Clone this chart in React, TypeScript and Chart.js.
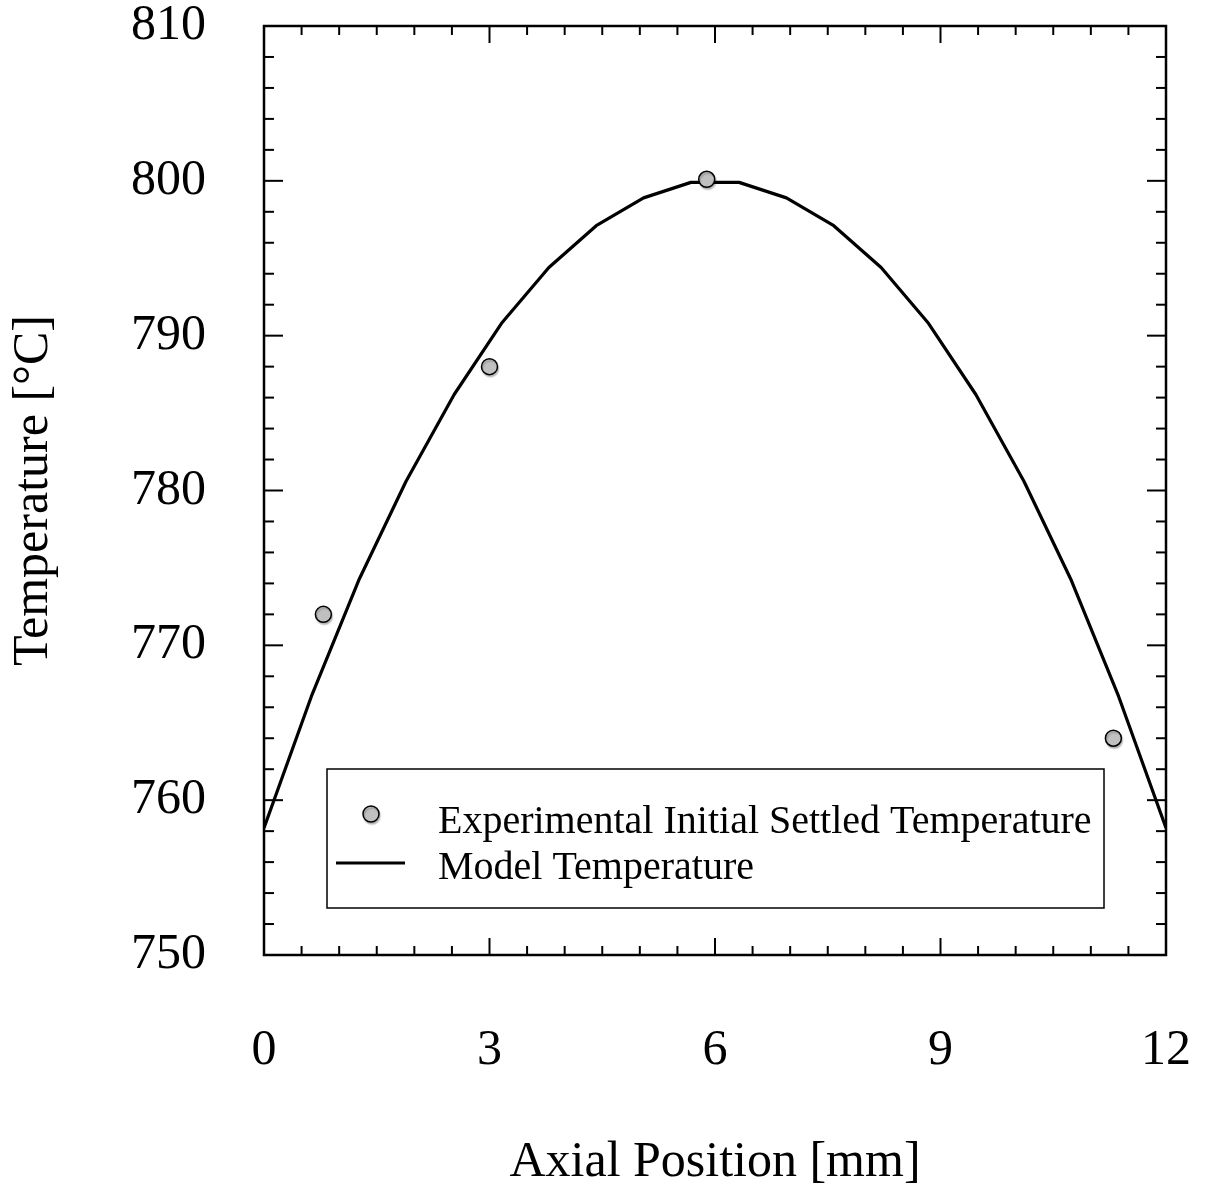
import React, { useEffect, useRef } from "react";
import { Chart, registerables } from "chart.js";

Chart.register(...registerables);

// ---- data ----
const modelX = [0, 0.63, 1.26, 1.89, 2.53, 3.16, 3.79, 4.42, 5.05, 5.68, 6.32, 6.95, 7.58, 8.21, 8.84, 9.47, 10.11, 10.74, 11.37, 12];
const modelT = [758.2, 766.7, 774.2, 780.6, 786.2, 790.8, 794.4, 797.1, 798.9, 799.9, 799.9, 798.9, 797.1, 794.4, 790.8, 786.2, 780.6, 774.2, 766.7, 758.2];
const expX = [0.79, 3.0, 5.89, 11.3];
const expT = [772, 788, 800.1, 764];
const seriesLabels = ["Experimental Initial Settled Temperature", "Model Temperature"];
const xTitle = "Axial Position [mm]";
const yTitle = "Temperature [°C]";
const xRange = [0, 12];
const yRange = [750, 810];
const xSteps = [3, 0.5]; // major, minor
const ySteps = [10, 2]; // major, minor

const FONT = "'Liberation Serif', 'Times New Roman', serif";

const bgPlugin = {
  id: "bg",
  beforeDraw(chart: any) {
    const { ctx, width, height } = chart;
    ctx.save();
    ctx.fillStyle = "#fff";
    ctx.fillRect(0, 0, width, height);
    ctx.restore();
  },
};

const shadowPlugin = {
  id: "markerShadow",
  beforeDatasetDraw(chart: any, args: any) {
    if (args.index === 0) {
      const ctx = chart.ctx;
      ctx.save();
      ctx.shadowColor = "rgba(0,0,0,0.22)";
      ctx.shadowOffsetX = 1;
      ctx.shadowOffsetY = 2;
      ctx.shadowBlur = 1.5;
    }
  },
  afterDatasetDraw(chart: any, args: any) {
    if (args.index === 0) chart.ctx.restore();
  },
};

const framePlugin = {
  id: "frame",
  afterDatasetsDraw(chart: any) {
    const { ctx, chartArea, scales } = chart;
    const { left, top, right, bottom } = chartArea;
    const xs = scales.x;
    const ys = scales.y;
    ctx.save();
    ctx.strokeStyle = "#000";
    ctx.lineWidth = 2;
    const seg = (a: number, b: number, c: number, d: number) => {
      ctx.beginPath();
      ctx.moveTo(a, b);
      ctx.lineTo(c, d);
      ctx.stroke();
    };
    const nx = Math.round((xRange[1] - xRange[0]) / xSteps[1]);
    for (let i = 0; i <= nx; i++) {
      const v = xRange[0] + i * xSteps[1];
      const px = xs.getPixelForValue(v);
      const r = v / xSteps[0];
      const major = Math.abs(r - Math.round(r)) < 1e-6;
      const len = major ? 17 : 9;
      seg(px, bottom, px, bottom - len);
      seg(px, top, px, top + len);
    }
    const ny = Math.round((yRange[1] - yRange[0]) / ySteps[1]);
    for (let i = 0; i <= ny; i++) {
      const v = yRange[0] + i * ySteps[1];
      const py = ys.getPixelForValue(v);
      const r = v / ySteps[0];
      const major = Math.abs(r - Math.round(r)) < 1e-6;
      const len = major ? 19 : 10;
      seg(left, py, left + len, py);
      seg(right, py, right - len, py);
    }
    ctx.lineWidth = 2.5;
    ctx.strokeRect(left, top, right - left, bottom - top);
    ctx.restore();
  },
};

const legendPlugin = {
  id: "boxLegend",
  afterDraw(chart: any) {
    const { ctx, chartArea } = chart;
    const bx = chartArea.left + 63;
    const by = chartArea.top + 743;
    const bw = 777;
    const bh = 139;
    ctx.save();
    ctx.fillStyle = "#fff";
    ctx.fillRect(bx, by, bw, bh);
    ctx.strokeStyle = "#000";
    ctx.lineWidth = 1.5;
    ctx.strokeRect(bx, by, bw, bh);
    const ds = chart.data.datasets;
    // marker
    ctx.save();
    ctx.shadowColor = "rgba(0,0,0,0.22)";
    ctx.shadowOffsetX = 1;
    ctx.shadowOffsetY = 2;
    ctx.shadowBlur = 1.5;
    ctx.beginPath();
    ctx.arc(bx + 44, by + 45, 8, 0, Math.PI * 2);
    ctx.fillStyle = ds[0].pointBackgroundColor;
    ctx.fill();
    ctx.lineWidth = 1.5;
    ctx.strokeStyle = "#000";
    ctx.stroke();
    ctx.restore();
    // line sample
    ctx.beginPath();
    ctx.moveTo(bx + 9, by + 94);
    ctx.lineTo(bx + 78, by + 94);
    ctx.lineWidth = 3.2;
    ctx.strokeStyle = "#000";
    ctx.stroke();
    // text
    ctx.fillStyle = "#000";
    ctx.font = `40px ${FONT}`;
    ctx.textAlign = "left";
    ctx.textBaseline = "alphabetic";
    ctx.fillText(ds[0].label, bx + 111, by + 64);
    ctx.fillText(ds[1].label, bx + 111, by + 110);
    ctx.restore();
  },
};

const zeroPad = (s: any) => {
  s.paddingLeft = 0;
  s.paddingRight = 0;
  s.paddingTop = 0;
  s.paddingBottom = 0;
};

export default function App() {
  const ref = useRef<HTMLCanvasElement>(null);
  useEffect(() => {
    const canvas = ref.current;
    if (!canvas) return;
    const chart = new Chart(canvas, {
      type: "scatter",
      data: {
        datasets: [
          {
            type: "scatter",
            label: seriesLabels[0],
            data: expX.map((x, i) => ({ x, y: expT[i] })),
            pointRadius: 8,
            pointHoverRadius: 8,
            pointBackgroundColor: "#c0c0c0",
            pointBorderColor: "#000",
            pointBorderWidth: 1.5,
            showLine: false,
          } as any,
          {
            type: "line",
            label: seriesLabels[1],
            data: modelX.map((x, i) => ({ x, y: modelT[i] })),
            borderColor: "#000",
            borderWidth: 3.2,
            pointRadius: 0,
            pointHoverRadius: 0,
            fill: false,
            tension: 0,
            borderJoinStyle: "round",
          } as any,
        ],
      },
      options: {
        responsive: false,
        animation: false,
        devicePixelRatio: 1,
        events: [],
        layout: { padding: { top: 26, right: 40, bottom: 0, left: 0 } },
        plugins: { legend: { display: false }, tooltip: { enabled: false } },
        scales: {
          x: {
            type: "linear",
            min: xRange[0],
            max: xRange[1],
            afterFit: (s: any) => {
              s.height = 238;
              zeroPad(s);
            },
            grid: { display: false, drawTicks: false },
            border: { display: false },
            ticks: {
              stepSize: xSteps[0],
              padding: 71,
              autoSkip: false,
              maxRotation: 0,
              color: "#000",
              font: { family: FONT, size: 50, lineHeight: 1 },
            },
            title: {
              display: true,
              text: xTitle,
              color: "#000",
              font: { family: FONT, size: 50, lineHeight: 1.2 },
              padding: { top: 0, bottom: 0 },
            },
          },
          y: {
            type: "linear",
            min: yRange[0],
            max: yRange[1],
            afterFit: (s: any) => {
              s.width = 264;
              zeroPad(s);
            },
            grid: { display: false, drawTicks: false },
            border: { display: false },
            ticks: {
              stepSize: ySteps[0],
              padding: 58,
              autoSkip: false,
              color: "#000",
              font: { family: FONT, size: 50, lineHeight: 1 },
            },
            title: {
              display: true,
              text: yTitle,
              color: "#000",
              font: { family: FONT, size: 50, lineHeight: 1.2 },
              padding: { top: 4, bottom: 0 },
            },
          },
        },
      } as any,
      plugins: [bgPlugin, shadowPlugin, framePlugin, legendPlugin],
    });
    return () => chart.destroy();
  }, []);
  return (
    <div style={{ position: "absolute", left: 0, top: 0, width: 1206, height: 1193 }}>
      <canvas ref={ref} width={1206} height={1193} style={{ display: "block" }} />
    </div>
  );
}
